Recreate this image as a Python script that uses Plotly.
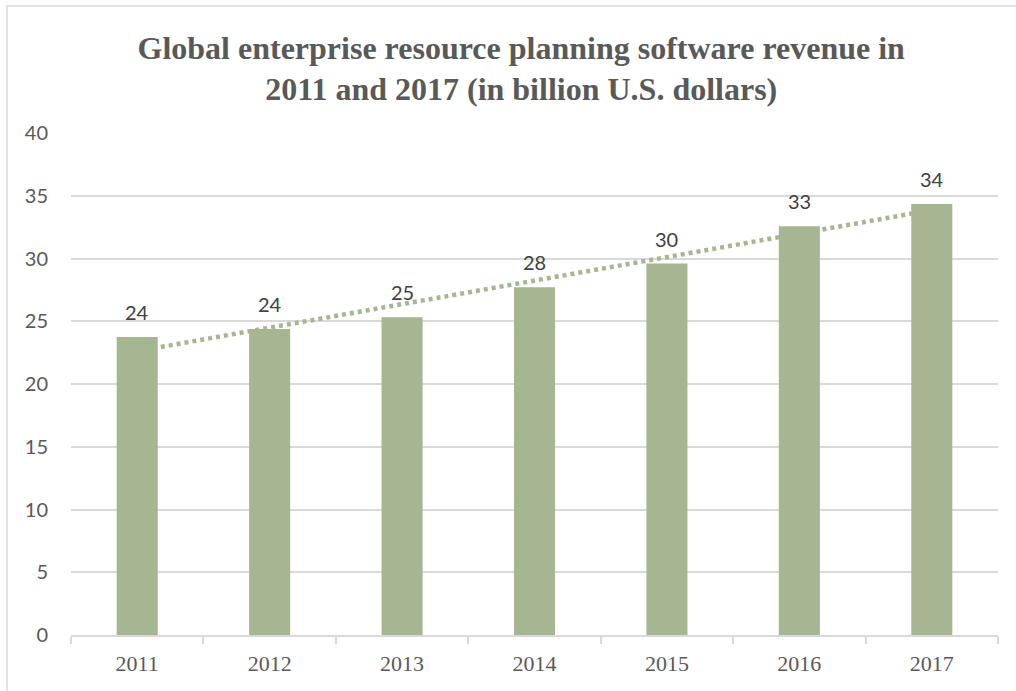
import numpy as np
import plotly.graph_objects as go

years = ["2011", "2012", "2013", "2014", "2015", "2016", "2017"]
revenue = [23.74, 24.38, 25.32, 27.70, 29.60, 32.57, 34.35]
y_ticks = [0, 5, 10, 15, 20, 25, 30, 35, 40]

title_text = ("<b>Global enterprise resource planning software revenue in<br>"
              "2011 and 2017 (in billion U.S. dollars)</b>")

bar_color = "#a6b592"
grid_color = "#d9d9d9"

# linear trend over the category index
idx = np.arange(len(years))
slope, intercept = np.polyfit(idx, revenue, 1)
trend_start = intercept
trend_end = intercept + slope * idx[-1]

fig = go.Figure()
fig.add_trace(go.Bar(
    x=years, y=revenue,
    marker=dict(color=bar_color, line=dict(width=0)),
    width=0.31,
    hoverinfo="x+y",
))

# rounded value labels above each bar (positioned by category index)
for i, v in zip(idx, revenue):
    fig.add_annotation(
        x=int(i), y=v, text=f"{round(v)}", showarrow=False,
        xref="x", yref="y",
        yanchor="bottom", yshift=11,
        font=dict(family="Lato", size=20, color="#404040"),
    )

shapes = [
    # dotted trendline, drawn beneath the bars
    dict(type="line", xref="x", yref="y",
         x0=idx[0], y0=trend_start, x1=idx[-1], y1=trend_end,
         line=dict(color=bar_color, width=4.5, dash="4px,4px"),
         layer="between"),
    # chart-area frame
    dict(type="rect", xref="paper", yref="paper",
         x0=-0.069, y0=-0.3, x1=1.2, y1=1.253,
         line=dict(color=grid_color, width=1.5),
         fillcolor="rgba(0,0,0,0)", layer="below"),
]

fig.update_layout(
    width=1016, height=691,
    margin=dict(l=71, r=18, t=133, b=56),
    paper_bgcolor="white", plot_bgcolor="white",
    showlegend=False,
    shapes=shapes,
    title=dict(
        text=title_text, x=0.513, xanchor="center",
        y=0.915, yanchor="middle", xref="container", yref="container",
        font=dict(family="Liberation Serif", size=32, color="#595959"),
    ),
    xaxis=dict(
        type="category", tickson="boundaries",
        ticks="outside", ticklen=7, tickcolor=grid_color, tickwidth=1.5,
        showline=True, linecolor=grid_color, linewidth=1.5,
        showgrid=False, ticklabelstandoff=8,
        tickfont=dict(family="Liberation Serif", size=22, color="#595959"),
        range=[-0.5, len(years) - 0.5],
    ),
    yaxis=dict(
        range=[0, 40], tickvals=y_ticks,
        showgrid=True, gridcolor=grid_color, gridwidth=1.5,
        zeroline=False, showline=False,
        ticks="", ticklabelstandoff=22,
        tickfont=dict(family="Lato", size=20, color="#595959"),
    ),
)

fig.write_html("out.html")
